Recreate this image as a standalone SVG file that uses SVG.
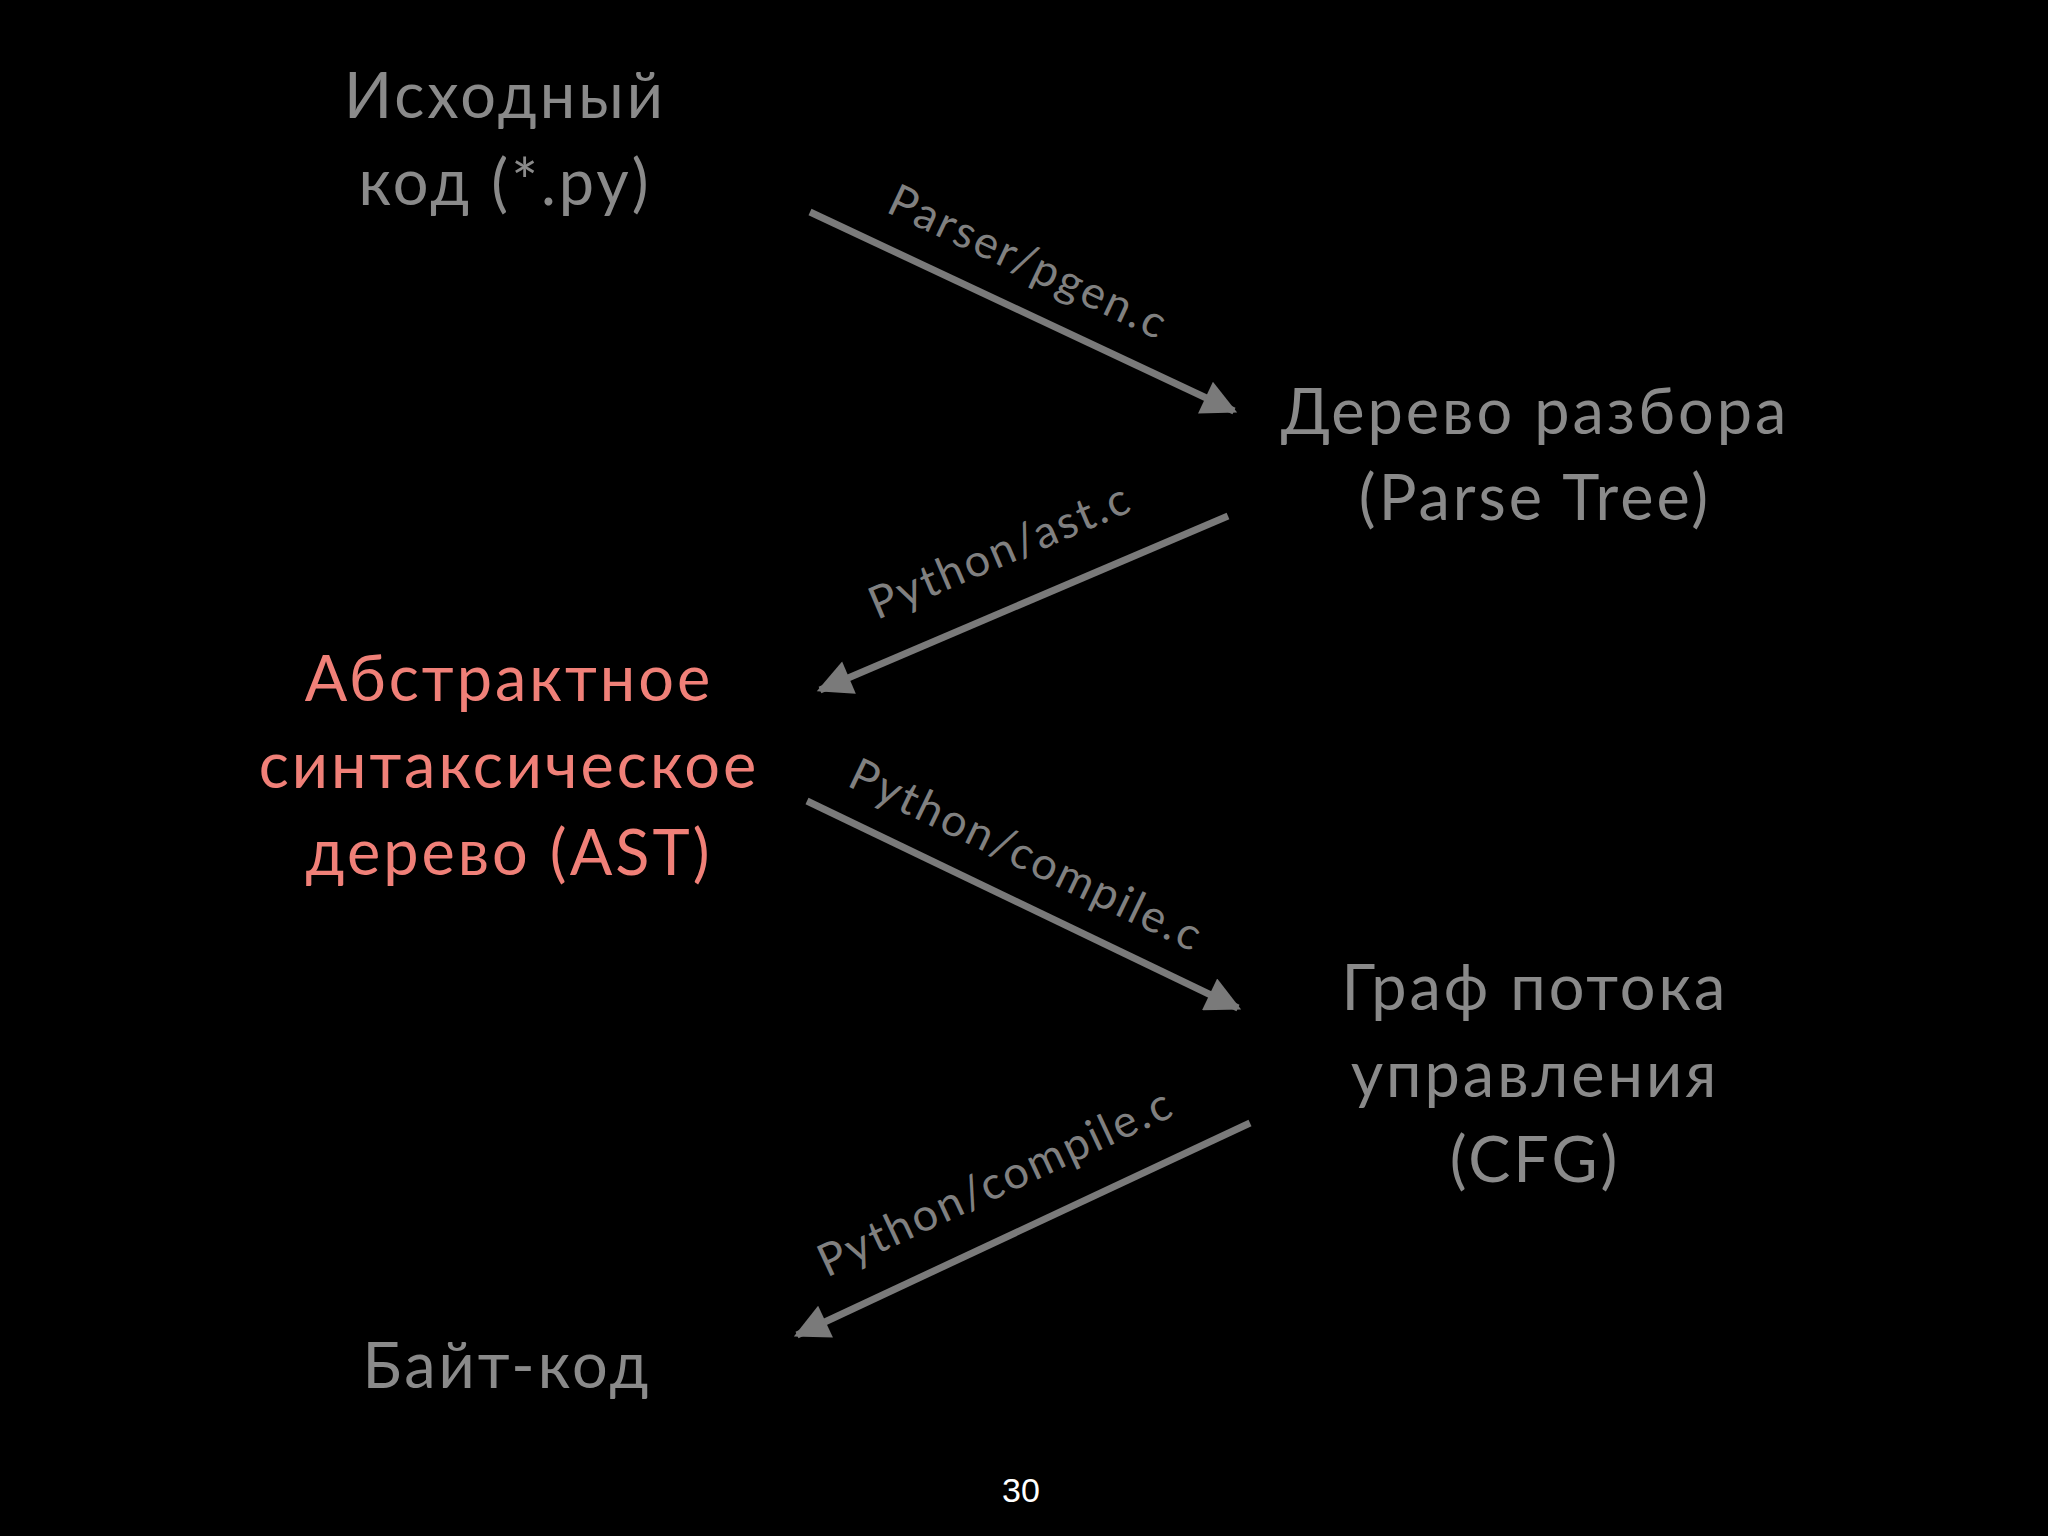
<svg xmlns="http://www.w3.org/2000/svg" width="2048" height="1536" viewBox="0 0 2048 1536">
<defs>
<marker id="ah" viewBox="0 0 10 10" refX="9" refY="5" markerWidth="6" markerHeight="5" markerUnits="strokeWidth" orient="auto"><path d="M0,0 L10,5 L0,10 z" fill="#7a7a7a"/></marker>
<style>
.n{font-family:Lato,"Noto Sans",sans-serif;font-size:63px;letter-spacing:3px;fill:#8a8a8a;text-anchor:middle}
.a{fill:#f08078}
.l{font-family:Lato,"Noto Sans",sans-serif;font-size:45px;letter-spacing:2.5px;fill:#808080;text-anchor:middle}
.c{stroke:#7a7a7a;stroke-width:7;fill:none;marker-end:url(#ah)}
</style>
</defs>
<rect width="2048" height="1536" fill="#000"/>
<g id="src"><text class="n" x="505" y="118">Исходный</text><text class="n" x="505" y="205">код (*.py)</text></g>
<g id="parsetree"><text class="n" x="1535" y="434">Дерево разбора</text><text class="n" x="1535" y="520">(Parse Tree)</text></g>
<g id="ast"><text class="n a" x="509" y="701">Абстрактное</text><text class="n a" x="509" y="788">синтаксическое</text><text class="n a" x="509" y="875">дерево (AST)</text></g>
<g id="cfg"><text class="n" x="1535" y="1010">Граф потока</text><text class="n" x="1535" y="1097">управления</text><text class="n" x="1535" y="1182">(CFG)</text></g>
<g id="bytecode"><text class="n" x="507" y="1388">Байт-код</text></g>
<g id="connectors">
<line class="c" x1="810" y1="212" x2="1234" y2="411"/>
<line class="c" x1="1228" y1="516" x2="820" y2="690"/>
<line class="c" x1="807" y1="801" x2="1238" y2="1008"/>
<line class="c" x1="1250" y1="1123" x2="797" y2="1335"/>
<text class="l" transform="translate(1022,276) rotate(25.2)">Parser/pgen.c</text>
<text class="l" transform="translate(1006,565) rotate(-23.1)">Python/ast.c</text>
<text class="l" transform="translate(1020,869) rotate(25.7)">Python/compile.c</text>
<text class="l" transform="translate(1002,1196) rotate(-25)">Python/compile.c</text>
</g>
<text x="1021" y="1502" font-family="Liberation Sans,sans-serif" font-size="34" fill="#fff" text-anchor="middle">30</text>
</svg>
